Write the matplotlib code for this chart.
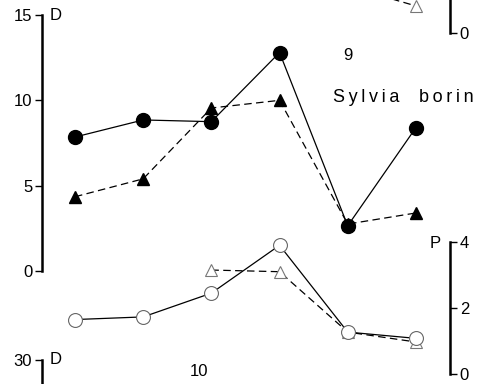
import matplotlib.pyplot as plt

# x positions of the six sampling periods
periods = [1, 2, 3, 4, 5, 6]

# panel 9, Sylvia borin
d_circles = [7.85, 8.85, 8.75, 12.8, 2.65, 8.4]
d_triangles = [4.35, 5.4, 9.55, 10.0, 2.75, 3.4]
p_circles = [1.65, 1.73, 2.45, 3.9, 1.27, 1.08]
p_tri_periods = [3, 4, 5, 6]
p_triangles = [3.15, 3.1, 1.27, 0.97]

# fragment of panel 8 above
p8_tri_periods = [5, 6]
p8_triangles = [1.42, 0.82]

W, H = 492, 384


def rect(left, bottom, width, height):
    return [left / W, bottom / H, width / W, height / H]


def clean(ax, keep):
    for side in ['top', 'bottom', 'left', 'right']:
        ax.spines[side].set_visible(side == keep)
    ax.spines[keep].set_linewidth(1.8)
    ax.set_xticks([])
    ax.patch.set_alpha(0)
    ax.tick_params(axis='y', length=5, width=1.0, pad=2, labelsize=12)


def spaced(word):
    return '\u2009'.join(word)


plt.rcParams['font.family'] = ['Liberation Sans', 'DejaVu Sans']

fig = plt.figure(figsize=(W / 100, H / 100), dpi=100)
xlim = (0.516, 6.5)

# D axis (panel 9)
axd = fig.add_axes(rect(42, 113, 408, 256))
clean(axd, 'left')
axd.set_xlim(*xlim)
axd.set_ylim(0, 15)
axd.set_yticks([0, 5, 10, 15])
axd.plot(periods, d_circles, '-', color='k', lw=0.9, marker='o', ms=10,
         mfc='k', mec='k', clip_on=False, zorder=3)
axd.plot(periods, d_triangles, '--', color='k', lw=0.9, dashes=(6, 3.5),
         marker='^', ms=9, mfc='k', mec='k', clip_on=False, zorder=3)

# P axis (panel 9)
axp = fig.add_axes(rect(42, 10, 408, 132))
clean(axp, 'right')
axp.yaxis.tick_right()
axp.set_xlim(*xlim)
axp.set_ylim(0, 4)
axp.set_yticks([0, 2, 4])
axp.plot(periods, p_circles, '-', color='k', lw=0.9, marker='o', ms=10,
         mfc='white', mec='#666666', mew=0.8, clip_on=False, zorder=3)
axp.plot(p_tri_periods, p_triangles, '--', color='k', lw=0.9,
         dashes=(6, 3.5), marker='^', ms=9, mfc='white', mec='#777777',
         mew=0.8, clip_on=False, zorder=2)

# P axis fragment of panel 8 (only its 0 tick is inside the picture)
axp8 = fig.add_axes(rect(42, 351, 408, 132))
clean(axp8, 'right')
axp8.yaxis.tick_right()
axp8.set_xlim(*xlim)
axp8.set_ylim(0, 4)
axp8.set_yticks([0])
axp8.plot(p8_tri_periods, p8_triangles, '--', color='k', lw=0.9,
          dashes=(6, 3.5), marker='^', ms=9, mfc='white', mec='#777777',
          mew=0.8)

# D axis fragment of panel 10 (only its 30 tick is inside the picture)
axd10 = fig.add_axes(rect(42, -232, 408, 256))
clean(axd10, 'left')
axd10.set_xlim(*xlim)
axd10.set_ylim(0, 30)
axd10.set_yticks([30])

fig.text(50 / W, 1 - 15 / H, 'D', fontsize=12, va='center', ha='left')
fig.text(50 / W, 1 - 360 / H, 'D', fontsize=12, va='center', ha='left')
fig.text(441 / W, 1 - 243 / H, 'P', fontsize=12, va='center', ha='right')
fig.text(343 / W, 1 - 55 / H, '9', fontsize=12, va='center', ha='left')
fig.text(333 / W, 1 - 97 / H, spaced('Sylvia'), fontsize=13, va='center',
         ha='left')
fig.text(474 / W, 1 - 97 / H, spaced('borin'), fontsize=13, va='center',
         ha='right')
fig.text(199 / W, 1 - 372 / H, '10', fontsize=12, va='center', ha='center')

fig.savefig('out.png', dpi=100)
